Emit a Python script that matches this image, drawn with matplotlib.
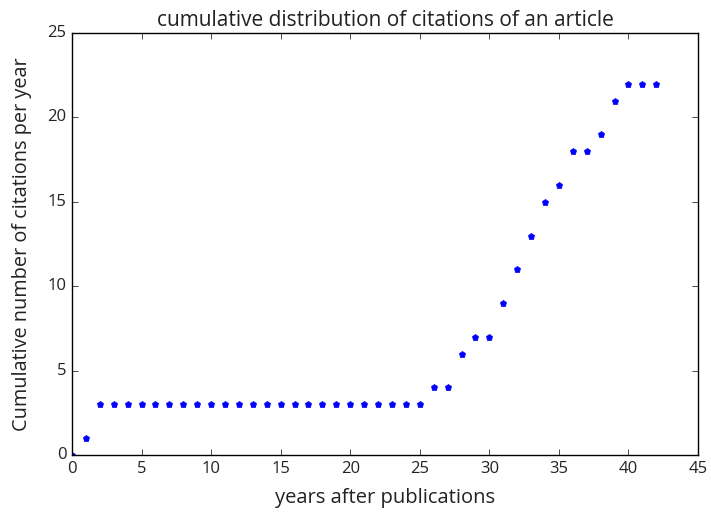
import matplotlib
matplotlib.use('Agg')
import matplotlib.pyplot as plt

plt.style.use('classic')
plt.rcParams['font.family'] = ['Open Sans', 'DejaVu Sans']

# years since publication and cumulative citation count
years = list(range(0, 43))
citations = [0, 1] + [3] * 24 + [4, 4, 6, 7, 7, 9, 11, 13, 15, 16, 18, 18, 19, 21, 22, 22, 22]

fig = plt.figure(figsize=(7.11, 5.13), dpi=100, facecolor='white')
ax = fig.add_axes([72 / 711, 1 - 455 / 513, 626 / 711, 422 / 513])
ax.plot(years, citations, 'bp', markersize=5, markeredgecolor='b')
ax.set_xlim(0, 45)
ax.set_ylim(0, 25)
ax.set_title('cumulative distribution of citations of an article', fontsize=15, color='#222222')
ax.set_xlabel('years after publications', fontsize=14.5, labelpad=8, color='#222222')
ax.set_ylabel('Cumulative number of citations per year', fontsize=14.3, labelpad=11, color='#222222')
ax.tick_params(labelsize=12, labelcolor='#222222')

fig.savefig('out.png', dpi=100, facecolor='white')
